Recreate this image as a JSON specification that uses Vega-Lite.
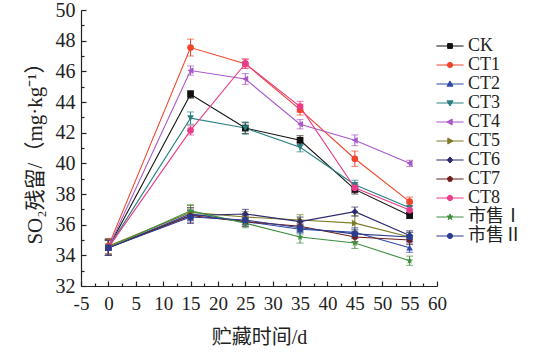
{
  "$schema": "https://vega.github.io/schema/vega-lite/v6.json",
  "autosize": "none",
  "width": 356,
  "height": 276,
  "padding": {"left": 81, "top": 10, "right": 97, "bottom": 72},
  "background": "white",
  "config": {"view": {"stroke": null}},
  "data": {"values": [
    {"s":"CK","d":0,"v":34.5,"e":0.5},{"s":"CK","d":15,"v":44.5,"e":0.25},{"s":"CK","d":25,"v":42.3,"e":0.35},{"s":"CK","d":35,"v":41.5,"e":0.3},{"s":"CK","d":45,"v":38.3,"e":0.3},{"s":"CK","d":55,"v":36.6,"e":0.2},
    {"s":"CT1","d":0,"v":34.6,"e":0.5},{"s":"CT1","d":15,"v":47.55,"e":0.55},{"s":"CT1","d":25,"v":46.5,"e":0.3},{"s":"CT1","d":35,"v":43.5,"e":0.35},{"s":"CT1","d":45,"v":40.3,"e":0.5},{"s":"CT1","d":55,"v":37.5,"e":0.3},
    {"s":"CT2","d":0,"v":34.5,"e":0.5},{"s":"CT2","d":15,"v":36.7,"e":0.4},{"s":"CT2","d":25,"v":36.2,"e":0.3},{"s":"CT2","d":35,"v":35.7,"e":0.3},{"s":"CT2","d":45,"v":35.5,"e":0.3},{"s":"CT2","d":55,"v":34.5,"e":0.3},
    {"s":"CT3","d":0,"v":34.5,"e":0.5},{"s":"CT3","d":15,"v":42.95,"e":0.4},{"s":"CT3","d":25,"v":42.3,"e":0.4},{"s":"CT3","d":35,"v":41.05,"e":0.3},{"s":"CT3","d":45,"v":38.6,"e":0.3},{"s":"CT3","d":55,"v":37.1,"e":0.3},
    {"s":"CT4","d":0,"v":34.5,"e":0.5},{"s":"CT4","d":15,"v":46.05,"e":0.3},{"s":"CT4","d":25,"v":45.5,"e":0.35},{"s":"CT4","d":35,"v":42.55,"e":0.3},{"s":"CT4","d":45,"v":41.5,"e":0.35},{"s":"CT4","d":55,"v":40.0,"e":0.2},
    {"s":"CT5","d":0,"v":34.6,"e":0.5},{"s":"CT5","d":15,"v":36.8,"e":0.45},{"s":"CT5","d":25,"v":36.5,"e":0.35},{"s":"CT5","d":35,"v":36.3,"e":0.35},{"s":"CT5","d":45,"v":36.1,"e":0.5},{"s":"CT5","d":55,"v":35.2,"e":0.3},
    {"s":"CT6","d":0,"v":34.5,"e":0.5},{"s":"CT6","d":15,"v":36.6,"e":0.35},{"s":"CT6","d":25,"v":36.7,"e":0.3},{"s":"CT6","d":35,"v":36.2,"e":0.3},{"s":"CT6","d":45,"v":36.85,"e":0.3},{"s":"CT6","d":55,"v":35.3,"e":0.3},
    {"s":"CT7","d":0,"v":34.5,"e":0.5},{"s":"CT7","d":15,"v":36.6,"e":0.5},{"s":"CT7","d":25,"v":36.2,"e":0.3},{"s":"CT7","d":35,"v":35.9,"e":0.3},{"s":"CT7","d":45,"v":35.2,"e":0.3},{"s":"CT7","d":55,"v":35.0,"e":0.3},
    {"s":"CT8","d":0,"v":34.5,"e":0.5},{"s":"CT8","d":15,"v":42.15,"e":0.3},{"s":"CT8","d":25,"v":46.5,"e":0.3},{"s":"CT8","d":35,"v":43.7,"e":0.35},{"s":"CT8","d":45,"v":38.4,"e":0.3},{"s":"CT8","d":55,"v":36.95,"e":0.3},
    {"s":"市售Ⅰ","d":0,"v":34.5,"e":0.5},{"s":"市售Ⅰ","d":15,"v":36.9,"e":0.4},{"s":"市售Ⅰ","d":25,"v":36.1,"e":0.3},{"s":"市售Ⅰ","d":35,"v":35.2,"e":0.4},{"s":"市售Ⅰ","d":45,"v":34.8,"e":0.35},{"s":"市售Ⅰ","d":55,"v":33.65,"e":0.3},
    {"s":"市售Ⅱ","d":0,"v":34.5,"e":0.5},{"s":"市售Ⅱ","d":15,"v":36.5,"e":0.4},{"s":"市售Ⅱ","d":25,"v":36.3,"e":0.3},{"s":"市售Ⅱ","d":35,"v":35.8,"e":0.3},{"s":"市售Ⅱ","d":45,"v":35.4,"e":0.3},{"s":"市售Ⅱ","d":55,"v":35.2,"e":0.3}
  ]},
  "encoding": {
    "x": {"field": "d", "type": "quantitative",
      "scale": {"domain": [-5, 60], "nice": false, "zero": false},
      "axis": {"title": "贮藏时间/d", "values": [-5,-2.5,0,2.5,5,7.5,10,12.5,15,17.5,20,22.5,25,27.5,30,32.5,35,37.5,40,42.5,45,47.5,50,52.5,55,57.5,60],
        "labelExpr": "datum.value % 5 === 0 ? replace(datum.label, '−', '-') : ''",
        "labelFlush": false, "labelOverlap": false,
        "tickSize": {"condition": {"test": "datum.value % 5 === 0", "value": -5}, "value": -3},
        "grid": false, "domainColor": "#222", "tickColor": "#222", "domainWidth": 1.2, "tickWidth": 1.2,
        "labelFont": "Liberation Serif, Times New Roman, serif", "labelFontSize": 19, "labelColor": "#222", "labelPadding": 13, "labelAngle": 0,
        "titleFont": "Liberation Serif, Noto Sans CJK SC, serif", "titleFontSize": 20, "titleFontWeight": "normal", "titleColor": "#222", "titlePadding": 12}},
    "y": {"field": "v", "type": "quantitative",
      "scale": {"domain": [32, 50], "nice": false, "zero": false},
      "axis": {"title": "SO₂残留/（mg·kg⁻¹）", "values": [32,33,34,35,36,37,38,39,40,41,42,43,44,45,46,47,48,49,50],
        "labelExpr": "datum.value % 2 === 0 ? datum.label : ''",
        "labelFlush": false, "labelOverlap": false,
        "tickSize": {"condition": {"test": "datum.value % 2 === 0", "value": -5}, "value": -3},
        "grid": false, "domainColor": "#222", "tickColor": "#222", "domainWidth": 1.2, "tickWidth": 1.2,
        "labelFont": "Liberation Serif, Times New Roman, serif", "labelFontSize": 20, "labelColor": "#222", "labelPadding": 11,
        "titleFont": "Liberation Serif, Noto Sans CJK SC, serif", "titleFontSize": 21, "titleFontWeight": "normal", "titleColor": "#222", "titlePadding": 10}},
    "color": {"condition": [
      {"test": "datum.s === 'CK'", "value": "#111111"},
      {"test": "datum.s === 'CT1'", "value": "#f0452a"},
      {"test": "datum.s === 'CT2'", "value": "#2d4aa8"},
      {"test": "datum.s === 'CT3'", "value": "#2a8080"},
      {"test": "datum.s === 'CT4'", "value": "#a857c8"},
      {"test": "datum.s === 'CT5'", "value": "#7d7a28"},
      {"test": "datum.s === 'CT6'", "value": "#2e2c6e"},
      {"test": "datum.s === 'CT7'", "value": "#6e1c1c"},
      {"test": "datum.s === 'CT8'", "value": "#ea3c8a"},
      {"test": "datum.s === '市售Ⅰ'", "value": "#3e8e3e"}
    ], "value": "#2c3d8f"}
  },
  "layer": [
    {"mark": {"type": "errorbar", "ticks": {"size": 7}, "thickness": 1},
      "encoding": {"yError": {"field": "e"}, "detail": {"field": "s"}}},
    {"mark": {"type": "line", "strokeWidth": 1.1},
      "encoding": {"detail": {"field": "s"}}},
    {"mark": {"type": "point", "filled": true, "opacity": 1, "size": 45},
      "encoding": {
        "shape": {"condition": [
          {"test": "datum.s === 'CK'", "value": "square"},
          {"test": "datum.s === 'CT2'", "value": "triangle-up"},
          {"test": "datum.s === 'CT3'", "value": "triangle-down"},
          {"test": "datum.s === 'CT4'", "value": "triangle-left"},
          {"test": "datum.s === 'CT5'", "value": "triangle-right"},
          {"test": "datum.s === 'CT6'", "value": "diamond"},
          {"test": "datum.s === 'CT7'", "value": "M0,-1L0.95,-0.31L0.59,0.81L-0.59,0.81L-0.95,-0.31Z"},
          {"test": "datum.s === '市售Ⅰ'", "value": "M0,-1.1L0.26,-0.36L1.05,-0.34L0.42,0.14L0.65,0.9L0,0.45L-0.65,0.9L-0.42,0.14L-1.05,-0.34L-0.26,-0.36Z"}
        ], "value": "circle"}}},
    {"transform": [{"filter": "datum.d < -100"}],
      "mark": {"type": "point", "filled": true, "opacity": 1, "strokeWidth": 1},
      "encoding": {
        "color": {"field": "s", "type": "nominal",
          "scale": {"domain": ["CK","CT1","CT2","CT3","CT4","CT5","CT6","CT7","CT8","市售Ⅰ","市售Ⅱ"],
            "range": ["#111111","#f0452a","#2d4aa8","#2a8080","#a857c8","#7d7a28","#2e2c6e","#6e1c1c","#ea3c8a","#3e8e3e","#2c3d8f"]},
          "legend": {"title": null, "orient": "none", "legendX": 360, "legendY": 27, "symbolSize": 256, "symbolStrokeWidth": 1,
            "labelFont": "Liberation Serif, Noto Sans CJK SC, serif", "labelFontSize": 18, "labelColor": "#222", "labelOffset": 9, "rowPadding": 1, "padding": 0}},
        "stroke": {"field": "s", "type": "nominal",
          "scale": {"domain": ["CK","CT1","CT2","CT3","CT4","CT5","CT6","CT7","CT8","市售Ⅰ","市售Ⅱ"],
            "range": ["#111111","#f0452a","#2d4aa8","#2a8080","#a857c8","#7d7a28","#2e2c6e","#6e1c1c","#ea3c8a","#3e8e3e","#2c3d8f"]},
          "legend": {"title": null, "orient": "none", "legendX": 360, "legendY": 27, "symbolSize": 256, "symbolStrokeWidth": 1,
            "labelFont": "Liberation Serif, Noto Sans CJK SC, serif", "labelFontSize": 18, "labelColor": "#222", "labelOffset": 9, "rowPadding": 1, "padding": 0}},
        "shape": {"field": "s", "type": "nominal",
          "legend": {"title": null, "orient": "none", "legendX": 360, "legendY": 27, "symbolSize": 256, "symbolStrokeWidth": 1,
            "labelFont": "Liberation Serif, Noto Sans CJK SC, serif", "labelFontSize": 18, "labelColor": "#222", "labelOffset": 9, "rowPadding": 1, "padding": 0},
          "scale": {"domain": ["CK","CT1","CT2","CT3","CT4","CT5","CT6","CT7","CT8","市售Ⅰ","市售Ⅱ"],
            "range": [
              "M-1.7,0H1.7M-0.3,-0.3H0.3V0.3H-0.3Z",
              "M-1.7,0H1.7M-0.33,0A0.33,0.33 0 1,0 0.33,0A0.33,0.33 0 1,0 -0.33,0Z",
              "M-1.7,0H1.7M0,-0.38L0.38,0.27L-0.38,0.27Z",
              "M-1.7,0H1.7M0,0.38L0.38,-0.27L-0.38,-0.27Z",
              "M-1.7,0H1.7M-0.38,0L0.27,-0.38L0.27,0.38Z",
              "M-1.7,0H1.7M0.38,0L-0.27,-0.38L-0.27,0.38Z",
              "M-1.7,0H1.7M0,-0.38L0.34,0L0,0.38L-0.34,0Z",
              "M-1.7,0H1.7M0,-0.35L0.33,-0.11L0.2,0.28L-0.2,0.28L-0.33,-0.11Z",
              "M-1.7,0H1.7M-0.33,0A0.33,0.33 0 1,0 0.33,0A0.33,0.33 0 1,0 -0.33,0Z",
              "M-1.7,0H1.7M0,-0.38L0.09,-0.12L0.37,-0.12L0.14,0.05L0.23,0.32L0,0.16L-0.23,0.32L-0.14,0.05L-0.37,-0.12L-0.09,-0.12Z",
              "M-1.7,0H1.7M-0.33,0A0.33,0.33 0 1,0 0.33,0A0.33,0.33 0 1,0 -0.33,0Z"]}}
      }}
  ]
}
